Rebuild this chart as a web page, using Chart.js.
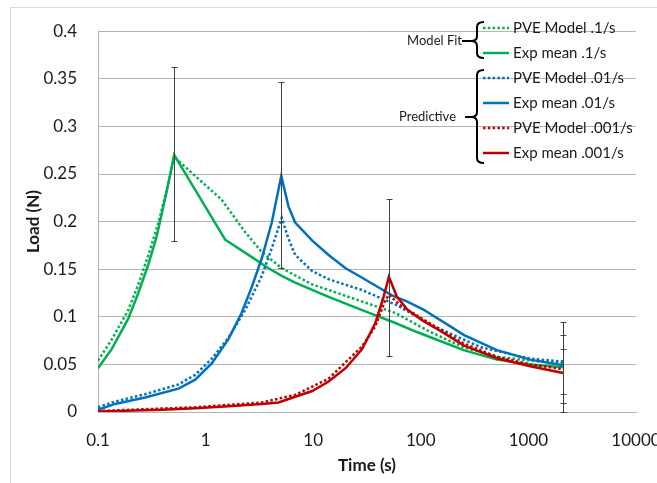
<!DOCTYPE html>
<html>
<head>
<meta charset="utf-8">
<script src="https://cdn.jsdelivr.net/npm/chart.js@4/dist/chart.umd.min.js"></script>
<style>
  body { margin: 0; overflow: hidden; background: #fff; }
  #frame { position: absolute; left: 10px; top: 7px; width: 720px; height: 520px; border: 1px solid #d9d9d9; }
  #chart { position: absolute; left: 0; top: 0; }
</style>
</head>
<body>
<div id="frame"></div>
<canvas id="chart" width="700" height="500"></canvas>
<script>
// time (s) / load (N)
const xTicks = [0.1, 1, 10, 100, 1000, 10000];

const greenModelT = [0.1, 0.134, 0.191, 0.237, 0.294, 0.364, 0.435, 0.51, 0.8, 1.41, 2.33, 3.33, 5.1, 9.8, 20, 58, 123, 250, 510, 1040, 2100];
const greenModelY = [0.054, 0.076, 0.107, 0.134, 0.165, 0.199, 0.233, 0.268, 0.248, 0.223, 0.189, 0.168, 0.151, 0.134, 0.122, 0.104, 0.084, 0.068, 0.058, 0.054, 0.051];

const greenExpT = [0.1, 0.134, 0.191, 0.237, 0.294, 0.352, 0.405, 0.451, 0.51, 1.52, 2.5, 3.85, 5.1, 6.8, 13.9, 28.5, 58, 92, 123, 250, 510, 1040, 2100];
const greenExpY = [0.046, 0.066, 0.098, 0.125, 0.155, 0.185, 0.216, 0.240, 0.270, 0.181, 0.165, 0.151, 0.143, 0.136, 0.121, 0.107, 0.0935, 0.084, 0.0785, 0.065, 0.055, 0.050, 0.047];

const blueModelT = [0.1, 0.144, 0.274, 0.56, 0.8, 1.14, 1.63, 2.33, 3.33, 4.12, 5.1, 5.89, 6.8, 9.8, 13.9, 28.5, 58, 123, 360, 1040, 2100];
const blueModelY = [0.005, 0.011, 0.0187, 0.029, 0.039, 0.056, 0.078, 0.107, 0.143, 0.172, 0.204, 0.182, 0.165, 0.148, 0.1395, 0.128, 0.113, 0.092, 0.068, 0.056, 0.053];

const blueExpT = [0.1, 0.144, 0.274, 0.56, 0.8, 1.14, 1.63, 2.16, 2.68, 3.33, 4.12, 5.05, 5.89, 6.8, 9.8, 13.9, 20, 28.5, 40.3, 54, 75, 106, 123, 188, 250, 510, 1040, 2100];
const blueExpY = [0.0024, 0.0085, 0.0153, 0.0245, 0.034, 0.051, 0.0765, 0.104, 0.131, 0.1615, 0.199, 0.248, 0.216, 0.199, 0.180, 0.165, 0.151, 0.141, 0.131, 0.1225, 0.116, 0.1075, 0.103, 0.090, 0.081, 0.065, 0.055, 0.049];

const redModelT = [0.1, 0.8, 3.33, 6.8, 13.9, 28.5, 37.8, 46.6, 50.5, 64, 106, 250, 510, 1040, 2100];
const redModelY = [0.001, 0.005, 0.010, 0.018, 0.035, 0.069, 0.090, 0.117, 0.123, 0.1125, 0.097, 0.072, 0.058, 0.050, 0.045];

const redExpT = [0.1, 0.39, 0.8, 1.63, 3.33, 4.77, 6.8, 9.8, 13.9, 20, 28.5, 37.8, 45.1, 50.5, 60, 75, 106, 151, 250, 510, 1040, 2100];
const redExpY = [0.0005, 0.0024, 0.004, 0.006, 0.0085, 0.010, 0.016, 0.022, 0.032, 0.046, 0.066, 0.0935, 0.121, 0.142, 0.121, 0.1075, 0.0955, 0.0855, 0.070, 0.0565, 0.048, 0.041];

// error bars
const errT = [0.51, 5.05, 50.5, 2100, 2100, 2100];
const errLow = [0.180, 0.151, 0.059, 0.0, 0.019, 0.0095];
const errHigh = [0.362, 0.347, 0.224, 0.0946, 0.081, 0.0667];

const legendLabels = ['PVE Model .1/s', 'Exp mean .1/s', 'PVE Model .01/s', 'Exp mean .01/s', 'PVE Model .001/s', 'Exp mean .001/s'];
const groupLabels = ['Model Fit', 'Predictive'];

const GREEN = '#00B050';
const BLUE = '#0070C0';
const RED = '#C00000';
const GRID = '#b3b3b3';
const FONT = 'Lato';

function pts(ts, ys) {
    return ts.map((t, i) => ({ x: t, y: ys[i] }));
}

function series(label, ts, ys, color, dotted, order) {
    return {
        label: label,
        data: pts(ts, ys),
        borderColor: color,
        backgroundColor: color,
        borderWidth: 2.5,
        borderDash: dotted ? [2.5, 2.3] : [],
        pointRadius: 0,
        tension: 0,
        fill: false,
        order: order,
    };
}

const errorBars = {
    id: 'errorBars',
    afterDatasetsDraw(chart) {
        const { ctx, scales: { x, y } } = chart;
        ctx.save();
        ctx.strokeStyle = '#404040';
        ctx.lineWidth = 1;
        for (let i = 0; i < errT.length; i++) {
            const px = Math.round(x.getPixelForValue(errT[i])) + 0.5;
            const top = Math.round(y.getPixelForValue(errHigh[i])) + 0.5;
            const bot = Math.round(y.getPixelForValue(errLow[i])) + 0.5;
            ctx.beginPath();
            ctx.moveTo(px, top);
            ctx.lineTo(px, bot);
            ctx.moveTo(px - 3, top);
            ctx.lineTo(px + 3, top);
            ctx.moveTo(px - 3, bot);
            ctx.lineTo(px + 3, bot);
            ctx.stroke();
        }
        ctx.restore();
    }
};

function brace(ctx, x, top, mid, bottom, tipFrom) {
    ctx.beginPath();
    ctx.moveTo(x + 7, top);
    ctx.quadraticCurveTo(x, top, x, top + 5);
    ctx.lineTo(x, mid - 5);
    ctx.quadraticCurveTo(x, mid, x - 6, mid);
    ctx.quadraticCurveTo(x, mid, x, mid + 5);
    ctx.lineTo(x, bottom - 5);
    ctx.quadraticCurveTo(x, bottom, x + 7, bottom);
    ctx.moveTo(tipFrom, mid);
    ctx.lineTo(x - 6, mid);
    ctx.stroke();
}

const bracketLegend = {
    id: 'bracketLegend',
    afterDraw(chart) {
        const ctx = chart.ctx;
        const sets = chart.data.datasets;
        ctx.save();
        ctx.textBaseline = 'middle';
        ctx.font = '15px ' + FONT;
        ctx.fillStyle = '#1a1a1a';
        legendLabels.forEach((lab, i) => {
            const ds = sets.find(d => d.label === lab);
            const yy = 28 + i * 25;
            ctx.strokeStyle = ds.borderColor;
            ctx.lineWidth = 2.5;
            ctx.setLineDash(ds.borderDash);
            ctx.beginPath();
            ctx.moveTo(483, yy);
            ctx.lineTo(509, yy);
            ctx.stroke();
            ctx.setLineDash([]);
            ctx.textAlign = 'left';
            ctx.fillText(lab, 513, yy);
        });

        ctx.strokeStyle = '#000';
        ctx.lineWidth = 2;
        brace(ctx, 477, 22, 41, 58, 462);
        brace(ctx, 477, 70, 117, 163, 465);

        ctx.font = '13px ' + FONT;
        ctx.textAlign = 'right';
        ctx.fillText(groupLabels[0], 462, 41);
        ctx.fillText(groupLabels[1], 456, 117);
        ctx.restore();
    }
};

function draw() {
    const data = {
        datasets: [
            series(legendLabels[0], greenModelT, greenModelY, GREEN, true, 6),
            series(legendLabels[1], greenExpT, greenExpY, GREEN, false, 5),
            series(legendLabels[2], blueModelT, blueModelY, BLUE, true, 4),
            series(legendLabels[3], blueExpT, blueExpY, BLUE, false, 3),
            series(legendLabels[4], redModelT, redModelY, RED, true, 2),
            series(legendLabels[5], redExpT, redExpY, RED, false, 1),
        ],
    };

    const config = {
        type: 'line',
        data: data,
        plugins: [errorBars, bracketLegend],
        options: {
            responsive: false,
            animation: false,
            devicePixelRatio: 1,
            layout: { padding: { left: 0, top: 20, right: 64, bottom: 0 } },
            plugins: {
                legend: { display: false },
                tooltip: { enabled: false },
            },
            scales: {
                x: {
                    type: 'logarithmic',
                    min: 0.1,
                    max: 10000,
                    afterBuildTicks: (s) => { s.ticks = xTicks.map(v => ({ value: v })); },
                    afterFit: (s) => { s.height = 88; },
                    grid: { display: false },
                    border: { display: true, color: GRID },
                    ticks: {
                        callback: (v) => String(v),
                        autoSkip: false,
                        maxRotation: 0,
                        padding: 10,
                        color: '#1a1a1a',
                        font: { family: FONT, size: 17 },
                    },
                    title: {
                        display: true,
                        text: 'Time (s)',
                        color: '#1a1a1a',
                        font: { family: FONT, size: 17, weight: 'bold' },
                        padding: { top: 0, bottom: 24 },
                    },
                },
                y: {
                    min: 0,
                    max: 0.4,
                    afterFit: (s) => { s.width = 98; },
                    grid: { color: GRID, drawTicks: false },
                    border: { display: true, color: GRID },
                    ticks: {
                        stepSize: 0.05,
                        callback: (v) => String(Math.round(v * 100) / 100),
                        padding: 21,
                        color: '#1a1a1a',
                        font: { family: FONT, size: 17 },
                    },
                    title: {
                        display: true,
                        text: 'Load (N)',
                        color: '#1a1a1a',
                        font: { family: FONT, size: 17, weight: 'bold' },
                        padding: { top: 23, bottom: 0 },
                    },
                },
            },
        },
    };

    window.myChart = new Chart(document.getElementById('chart').getContext('2d'), config);
}

document.fonts.load('17px Lato').then(draw, draw);
</script>
</body>
</html>
